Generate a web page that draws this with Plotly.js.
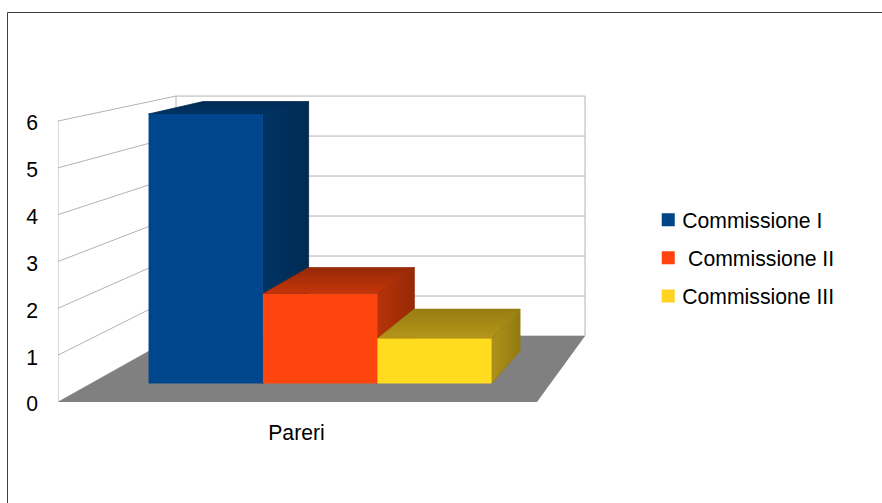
<!DOCTYPE html>
<html>
<head>
<meta charset="utf-8">
<script src="https://cdn.plot.ly/plotly-3.0.1.min.js"></script>
<style>html,body{margin:0;padding:0;background:#fff}#chart{width:882px;height:503px}</style>
</head>
<body>
<div id="chart"></div>
<script>
// Chart values
var categories = ["Pareri"];
var seriesNames = ["Commissione I", "\u00A0Commissione II", "Commissione III"];
var seriesValues = [6, 2, 1];
var yTicks = [0, 1, 2, 3, 4, 5, 6];
var seriesColors = ["#004586", "#ff420e", "#ffd320"];
var frontColors = ["#00468c", "#ff450e", "#ffdc20"];
var topColors = [["#003364", "#002a55"], ["#c6340a", "#952a06"], ["#b5961a", "#987d12"]];
var sideColors = [["#003466", "#002a52"], ["#b8320a", "#962a06"], ["#b0921a", "#937a10"]];

// Perspective of the scene, in axis units
var vpX = 1.687, vpY = 9.65, persp = 0.171;
var barBand = [0.125, 0.872], barDepth = [0.25, 0.75];
var yMax = 6;

function project(u, v, z) {
  var s = 1 / (1 + persp * z);
  return [vpX + (u - vpX) * s, vpY + (v - vpY) * s];
}
function poly(pts) {
  var p = pts.map(function (q) { return project(q[0], q[1], q[2]); });
  return { x: p.map(function (a) { return a[0]; }), y: p.map(function (a) { return a[1]; }) };
}
function faceTrace(pts, fill, gradType, grad) {
  var g = poly(pts.concat([pts[0]]));
  var t = { x: g.x, y: g.y, type: "scatter", mode: "none", fill: "toself",
    fillcolor: fill, hoverinfo: "skip", showlegend: false };
  if (grad) {
    t.mode = "lines";
    t.line = { color: grad[1], width: 0.8 };
    t.fillgradient = { type: gradType, colorscale: [[0, grad[0]], [1, grad[1]]] };
  }
  return t;
}
function lineTrace(pts) {
  var g = poly(pts);
  return { x: g.x, y: g.y, type: "scatter", mode: "lines",
    line: { color: "#b3b3b3", width: 1 }, hoverinfo: "skip", showlegend: false };
}

var traces = [];
// walls
yTicks.forEach(function (t) {
  traces.push(lineTrace([[0, t, 0], [0, t, 1], [1, t, 1]]));
});
traces.push(lineTrace([[0, 0, 0], [0, yMax, 0]]));
traces.push(lineTrace([[0, 0, 1], [0, yMax, 1]]));
traces.push(lineTrace([[1, 0, 1], [1, yMax, 1]]));
// floor
traces.push(faceTrace([[0, 0, 0], [1, 0, 0], [1, 0, 1], [0, 0, 1]], "#808080"));
// bars
var bw = (barBand[1] - barBand[0]) / seriesValues.length;
seriesValues.forEach(function (val, i) {
  var a = barBand[0] + i * bw, b = a + bw;
  var z0 = barDepth[0], z1 = barDepth[1];
  traces.push(faceTrace([[b, 0, z0], [b, 0, z1], [b, val, z1], [b, val, z0]],
    sideColors[i][0], "horizontal", sideColors[i]));
  traces.push(faceTrace([[a, val, z0], [b, val, z0], [b, val, z1], [a, val, z1]],
    topColors[i][0], "vertical", topColors[i]));
  traces.push(faceTrace([[a, 0, z0], [b, 0, z0], [b, val, z0], [a, val, z0]], frontColors[i]));
});
// legend entries
seriesNames.forEach(function (n, i) {
  traces.push({ x: [null], y: [null], type: "scatter", mode: "markers", name: n,
    legendgroup: "g" + i, hoverinfo: "skip",
    marker: { symbol: "square", size: 13, color: seriesColors[i] } });
});

var layout = {
  width: 882, height: 503, autosize: false,
  paper_bgcolor: "#ffffff", plot_bgcolor: "rgba(0,0,0,0)",
  margin: { l: 58, r: 282, t: 90, b: 101, pad: 0 },
  font: { family: "Liberation Sans, Arial, sans-serif", size: 21.2, color: "#000000" },
  xaxis: { range: [0, 542 / 479], tickmode: "array", tickvals: [0.5], ticktext: categories,
    showgrid: false, zeroline: false, showline: false, ticks: "", ticklabelstandoff: 16, ticklabelshift: -1, fixedrange: true },
  yaxis: { range: [0, 312 / 46.83], tickmode: "array", tickvals: yTicks,
    showgrid: false, zeroline: false, showline: false, ticks: "", ticklabelstandoff: 19, ticklabelshift: 2, fixedrange: true },
  legend: { x: 1.089, xanchor: "left", y: 0.649, yanchor: "top", tracegroupgap: 7.5,
    font: { size: 21.2, color: "#000000" }, bgcolor: "rgba(0,0,0,0)", itemclick: false, itemdoubleclick: false },
  shapes: [
    { type: "line", xref: "paper", yref: "paper", x0: -50.5 / 542, x1: 1.6, y0: 1 + 77.5 / 312, y1: 1 + 77.5 / 312, line: { color: "#3f3f3f", width: 1 } },
    { type: "line", xref: "paper", yref: "paper", x0: -50.5 / 542, x1: -50.5 / 542, y0: 1 + 77.5 / 312, y1: -0.5, line: { color: "#3f3f3f", width: 1 } }
  ]
};
Plotly.newPlot("chart", traces, layout, { staticPlot: true, displayModeBar: false }).then(function () {
  document.querySelectorAll("#chart .legendtext").forEach(function (t) {
    t.setAttribute("x", parseFloat(t.getAttribute("x")) - 6);
  });
});
</script>
</body>
</html>
